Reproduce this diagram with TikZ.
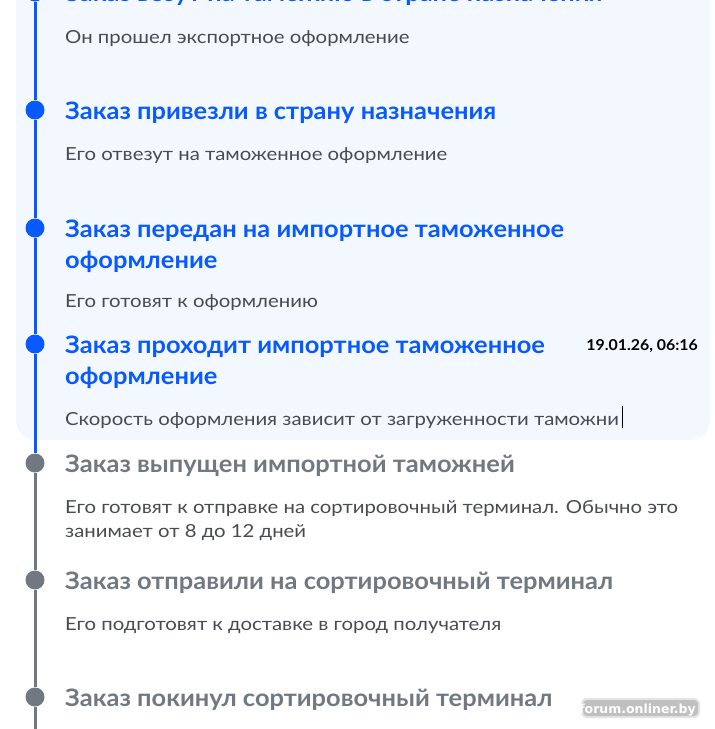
\documentclass[tikz,border=0pt]{standalone}
\usepackage{fontspec}
\setmainfont{Lato}
\newfontfamily\titlefont[FakeStretch=1.06]{Lato}
\newfontfamily\subfont[FakeStretch=1.13]{Lato}
\newfontfamily\wmfont{DejaVu Sans}
\definecolor{tlblue}{RGB}{8,90,255}
\definecolor{tlgray}{RGB}{112,120,130}
\definecolor{subtxt}{RGB}{72,76,82}
\definecolor{panel}{RGB}{243,248,255}
\definecolor{wmshadow}{RGB}{110,110,110}
\begin{document}
\begin{tikzpicture}[x=1pt,y=-1pt,
  ttl/.style={anchor=base west,inner sep=0pt,font=\titlefont\fontsize{24}{28}\selectfont\bfseries},
  blueT/.style={ttl,text=tlblue},
  grayT/.style={ttl,text=tlgray},
  subT/.style={anchor=base west,inner sep=0pt,text=subtxt,font=\subfont\fontsize{18}{21}\selectfont},
  bdot/.style={circle,fill=tlblue,minimum size=19pt,inner sep=0pt},
  gdot/.style={circle,fill=tlgray,minimum size=19pt,inner sep=0pt},
  bline/.style={draw=tlblue,line width=3pt},
  gline/.style={draw=tlgray,line width=3pt}]
\useasboundingbox (0,0) rectangle (715,729);
\clip (0,0) rectangle (715,729);
\fill[white] (0,0) rectangle (715,729);
% panel
\fill[panel,rounded corners=20pt] (16,-40) rectangle (710,440);
% dots
\node[bdot] (d0) at (35,-8) {};
\node[bdot] (d1) at (35,110) {};
\node[bdot] (d2) at (35,228) {};
\node[bdot] (d3) at (35,344) {};
\node[gdot] (d4) at (35,463) {};
\node[gdot] (d5) at (35,580) {};
\node[gdot] (d6) at (35,697) {};
\coordinate (top) at (35,-40);
\coordinate (bot) at (35,740);
% lines
\draw[bline] (top) -- (d0) -- (d1) -- (d2) -- (d3) -- (d4.north);
\draw[gline] (d4.north) -- (d4) -- (d5) -- (d6) -- (bot);
% texts
\node[blueT] (t0) at (65,1) {Заказ везут на таможню в стране назначения};
\node[subT] (s0) at (65,43) {Он прошел экспортное оформление};
\node[blueT] (t1) at (65,119) {Заказ привезли в страну назначения};
\node[subT] (s1) at (65,160) {Его отвезут на таможенное оформление};
\node[blueT] (t2a) at (65,237) {Заказ передан на импортное таможенное};
\node[blueT] (t2b) at (65,268) {оформление};
\node[subT] (s2) at (65,307) {Его готовят к оформлению};
\node[blueT] (t3a) at (65,353) {Заказ проходит импортное таможенное};
\node[blueT] (t3b) at (65,384) {оформление};
\node[subT] (s3) at (65,425) {Скорость оформления зависит от загруженности таможни};
\node[anchor=base east,inner sep=0pt,font=\titlefont\fontsize{15}{18}\selectfont\bfseries] (date) at (698,350) {19.01.26, 06:16};
\draw[black,line width=0.8pt] (622,406) -- (622,428);
\node[grayT] (t4) at (65,472) {Заказ выпущен импортной таможней};
\node[subT] (s4a) at (65,513) {Его готовят к отправке на сортировочный терминал. Обычно это};
\node[subT] (s4b) at (65,537) {занимает от 8 до 12 дней};
\node[grayT] (t5) at (65,589) {Заказ отправили на сортировочный терминал};
\node[subT] (s5) at (65,630) {Его подготовят к доставке в город получателя};
\node[grayT] (t6) at (65,706) {Заказ покинул сортировочный терминал};
% watermark
\fill[wmshadow,opacity=0.18,rounded corners=6pt] (581,698) rectangle (700,718);
\fill[wmshadow,opacity=0.3,rounded corners=4pt] (583,700) rectangle (698,716);
\node[anchor=base east,inner sep=0pt,text=white,font=\wmfont\fontsize{12.5}{15}\selectfont\bfseries] (wm) at (696,713) {forum.onliner.by};
\end{tikzpicture}
\end{document}
